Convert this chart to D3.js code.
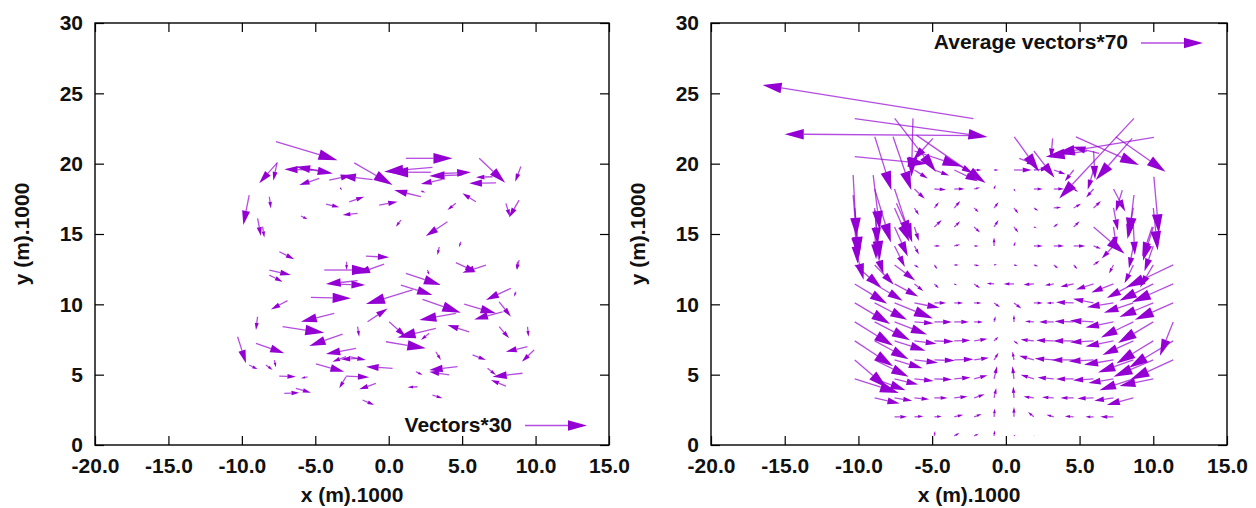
<!DOCTYPE html>
<html lang="en">
<head>
<meta charset="UTF-8">
<title>vectors</title>
<script src="https://cdn.jsdelivr.net/npm/d3@7"></script>
<style>
  body { margin: 0; background: #fff; }
  svg text { font-family: "Liberation Sans", Arial, Helvetica, sans-serif; font-weight: bold; }
</style>
</head>
<body>
<script>
// axis ticks
const xTicks = [-20, -15, -10, -5, 0, 5, 10, 15];
const yTicks = [0, 5, 10, 15, 20, 25, 30];

// left panel: single vectors [x, y, dx, dy] (already *30)
const vecs30 = [
  [-7.68, 21.56, 4.19, -1.31], [1.17, 20.38, 3.17, 0], [6.16, 20.38, 1.77, -1.74],
  [9.0, 19.8, -0.39, -1.09], [-7.57, 20.09, -1.25, -1.49], [-7.61, 20.02, -0.25, -1.23],
  [-5.19, 19.55, -1.92, 0.05], [-4.28, 19.43, -2.04, 0.35], [-6.0, 19.7, 2.2, -0.4],
  [-4.05, 18.83, 1.55, 0.36], [-1.1, 18.86, -2.15, 0.28], [-4.73, 18.95, -1.36, -0.47],
  [-2.35, 20.06, 2.61, -1.58], [2.98, 19.74, -3.29, -0.31], [2.87, 19.39, -2.84, 0],
  [2.19, 17.65, -1.82, 0.47], [3.6, 19.3, 2.0, 0.09], [5.0, 19.2, -2.24, -0.08],
  [3.66, 18.88, -1.47, -0.33], [7.3, 18.64, -1.82, -0.04], [7.07, 19.07, -1.13, -0.04],
  [-3.3, 18.3, 0.1, -0.2], [2.2, 18.05, 0.3, -0.1], [-2.69, 17.29, 1.02, 0.36],
  [-0.65, 17.06, 1.25, 0.23], [-4.27, 17.13, 0.9, -0.23], [-2.12, 16.47, -1.02, -0.12],
  [-5.98, 16.28, 0.45, -0.24], [-8.13, 17.65, 0.11, -0.83], [-9.5, 17.77, -0.4, -2.13],
  [-8.93, 16.11, 0.23, -1.26], [-8.59, 15.52, 0.12, -0.76], [5.94, 17.29, -0.92, 0.6],
  [4.57, 17.18, -0.57, -0.48], [4.0, 15.87, -1.47, -1.02], [0.83, 15.99, -0.34, -0.47],
  [8.88, 17.41, -0.68, -1.23], [7.98, 17.18, 0.27, -0.95], [3.44, 14.09, -0.12, -0.59],
  [4.91, 14.45, -0.11, -0.4], [8.88, 13.15, -0.15, -0.71], [-7.45, 13.74, 1.02, -0.54],
  [-1.55, 13.43, 1.58, -0.09], [-4.39, 12.44, 3.18, 0], [-0.31, 12.86, -1.92, -0.71],
  [-2.87, 13.03, 0, -0.59], [-2.12, 11.68, -2.16, -0.24], [-3.59, 11.44, 1.99, -0.07],
  [-8.13, 12.44, 1.47, -0.36], [-8.13, 12.08, 0.9, -0.47], [-5.3, 10.5, 2.73, -0.07],
  [-6.89, 10.26, -1.13, -0.62], [1.62, 11.02, -3.17, -1.0], [1.17, 12.2, 2.38, -0.83],
  [2.64, 12.44, 0.12, -0.36], [0.83, 11.37, 2.15, -0.71], [2.3, 10.36, 2.61, -0.96],
  [6.62, 12.79, -1.6, -0.54], [4.57, 12.96, 1.37, -0.64], [8.77, 13.03, -0.07, -0.54],
  [8.32, 11.14, -1.7, -0.83], [8.66, 10.9, -0.12, -0.36], [5.14, 10.02, 2.16, -0.66],
  [7.52, 10.18, 0.8, -1.06], [7.75, 9.47, -1.93, -0.54], [4.57, 9.36, -2.49, -0.48],
  [-1.44, 8.76, 1.36, 0.95], [-3.71, 9.36, -2.27, -0.6], [-7.23, 8.41, 2.84, -0.43],
  [-3.14, 7.89, -2.27, -0.85], [-8.93, 9.12, -0.11, -0.95], [-10.29, 7.7, 0.57, -1.89],
  [-9.04, 7.23, 1.93, -0.71], [-9.5, 5.69, 0.57, -0.31], [-8.36, 5.69, 0.45, -0.36],
  [-7.79, 6.04, 0.11, -0.52], [-2.23, 6.87, -2.05, -0.4], [-4.96, 5.76, 1.93, -0.55],
  [-2.01, 6.16, -1.24, -0.07], [-2.91, 6.28, -0.92, -0.36], [-2.69, 6.28, 1.14, -0.24],
  [0.26, 5.45, -1.81, 0.12], [-7.45, 4.9, 1.13, -0.05], [-5.53, 4.85, -0.45, -0.11],
  [-2.91, 4.9, 1.58, -0.09], [-2.91, 4.85, -0.46, -0.82], [-0.87, 4.38, -1.14, -0.42],
  [-7.11, 3.67, 1.02, 0.05], [-6.32, 4.03, 1.02, -0.31], [-1.78, 3.2, 0.79, -0.36],
  [1.96, 4.14, -0.68, -0.04], [1.85, 5.21, 0.45, -0.23], [4.68, 5.57, -1.92, -0.24],
  [4.12, 4.98, -1.36, 0.23], [3.21, 6.63, 0.34, -0.59], [2.98, 3.55, 0.68, -0.23],
  [0.03, 8.76, 1.14, -1.06], [3.21, 8.29, -2.61, -0.64], [-0.19, 7.34, 2.72, -0.47],
  [-2.12, 8.41, 0.11, -0.71], [2.76, 7.94, -0.57, -0.48], [5.48, 8.05, -1.48, 0.48],
  [7.52, 8.41, 0.68, -0.83], [9.45, 8.41, 0.07, -0.71], [9.45, 6.99, -1.47, -0.36],
  [9.9, 6.75, -0.83, -0.83], [5.71, 6.4, 0.91, -0.36], [9.11, 5.1, -2.04, -0.25],
  [7.98, 4.19, -1.02, 0.43], [6.73, 5.45, 0.57, -0.47]
];

// right panel: averaged field on a grid (already *70)
const gridX = [-10.25, -8.9, -7.55, -6.2, -4.85, -3.5, -2.15, -0.8, 0.55, 1.9, 3.25, 4.6, 5.95, 7.3, 8.65, 10.0, 11.35];
const gridY = [0.65, 2.0, 3.35, 4.7, 6.05, 7.4, 8.75, 10.1, 11.45, 12.8, 14.15, 15.5, 16.85, 18.2, 19.55];
const avgUV = [
  [null, null, null, null, [0.05, 0.35], [0.35, 0.2], [0.3, 0.15], [0.05, 0.4], [0.1, 0.1], [0.05, 0.05], null, null, null, null, null, null, null],
  [null, null, [0.85, 0], [0.6, 0.05], [0.5, 0.05], [0.6, 0.15], [0.5, 0.2], [0.05, 0.6], [0, 0.7], [-0.4, 0.35], [-0.5, 0.15], [-0.6, 0.05], [-0.55, 0], [-0.9, 0], null, null, null],
  [null, [1.7, -0.4], [1.2, -0.2], [1.0, -0.1], [0.9, 0], [0.9, 0.1], [0.7, 0.25], [0.15, 0.7], [-0.05, 0.8], [-0.7, 0.1], [-0.8, 0.05], [-0.9, 0], [-1.1, -0.05], [-1.3, -0.2], [-1.8, -0.5], null, null],
  [[3.0, -1.0], [2.1, -0.8], [1.6, -0.4], [1.3, -0.15], [1.2, -0.05], [1.1, 0.1], [0.9, 0.25], [0.2, 0.9], [-0.1, 0.9], [-0.9, 0.3], [-1.1, 0.1], [-1.2, 0], [-1.4, -0.1], [-1.7, -0.3], [-2.3, -0.8], [-2.3, -0.5], null],
  [[2.2, -2.0], [2.3, -1.2], [1.9, -0.6], [1.6, -0.2], [1.4, -0.05], [1.3, 0.05], [1.0, 0.15], [0.3, 0.5], [-0.1, 0.6], [-1.0, 0.3], [-1.3, 0.1], [-1.5, 0], [-1.7, -0.1], [-2.0, -0.35], [-2.4, -0.9], [-2.7, -1.2], [-2.9, -1.4]],
  [[2.6, -1.8], [2.3, -1.3], [2.1, -0.7], [1.5, -0.2], [1.3, -0.05], [1.1, 0.05], [0.9, 0.15], [0.3, 0.3], [0.3, -0.25], [-0.9, 0.1], [-1.2, 0.05], [-1.4, 0], [-1.6, -0.1], [-1.9, -0.4], [-2.1, -1.0], [-2.5, -1.6], [-3.0, -1.9]],
  [[2.6, -1.7], [2.4, -1.3], [2.2, -0.9], [1.3, -0.1], [1.2, 0], [1.0, 0], [0.6, 0], [0.1, 0.4], [0, 0.5], [-0.6, 0.05], [-1.0, 0], [-1.3, 0.05], [-1.6, 0.1], [-1.9, -0.4], [-2.2, -1.1], [-2.4, -1.5], [-0.9, -2.4]],
  [[2.4, -1.5], [2.2, -1.2], [2.6, -1.1], [1.7, -0.35], [0.8, 0], [0.6, 0], [0.5, 0], [0.4, -0.3], [0.5, -0.4], [0.6, 0], [-0.5, 0], [-1.2, 0.05], [-1.4, 0.3], [-1.8, -0.3], [-2.0, -0.7], [-2.3, -1.0], [-2.6, -1.2]],
  [[2.2, -1.4], [1.9, -1.2], [1.6, -0.9], [0.6, -0.5], [0.3, -0.3], [0.2, -0.1], [0.4, -0.3], [-0.5, 0.05], [-0.7, 0], [-0.7, -0.05], [-0.6, -0.1], [-0.9, -0.2], [-1.2, -0.4], [-1.5, -0.6], [-1.8, -1.0], [-2.3, -1.2], [-2.8, -1.3]],
  [[1.8, -1.6], [1.3, -1.4], [1.4, -1.1], [0.3, -0.2], [0.2, -0.3], [0.3, 0], [0.35, -0.05], [0.2, 0.05], [0.25, -0.05], [0.3, -0.1], [0.3, -0.25], [0.25, -0.3], [0.4, 0.3], [-0.3, -0.6], [-0.6, -1.3], [-0.9, -1.6], [-3.2, -1.6]],
  [[0.6, -2.4], [0.6, -2.0], [0.7, -1.5], [0.3, -0.6], [0.4, 0], [0.4, 0.1], [0.3, 0], [0, 0.6], [0.1, 0.3], [0.6, 0], [0.7, 0], [0.8, 0], [0.5, -0.2], [-0.8, -0.9], [-0.3, -1.6], [-0.6, -1.8], null],
  [[0.2, -2.6], [0.1, -2.3], [0.9, -2.1], [0.3, -1.0], [0.5, 0.5], [0.4, 0.4], [0.4, -0.4], [0.3, 0.5], [0.3, -0.4], [0.2, -0.1], [0.3, 0.25], [0.4, 0.4], [2.1, -1.9], [0.2, -1.4], [0.1, -2.0], [-0.7, -2.4], null],
  [[0.3, -3.4], [0.2, -2.6], [1.0, -2.4], [0.3, -0.5], [0.3, 0.4], [0.4, 0.5], [0.3, -0.3], [0.3, 0.4], [0.3, -0.4], [0.3, -0.2], [0.5, 0.05], [0.5, 0.3], [0.5, 0.5], [0.3, -1.6], [-0.4, -2.2], [0.3, -3.0], null],
  [null, [1.1, -3.8], [1.2, -3.8], [0.7, -0.7], [0.8, -0.05], [0.7, 0], [0.4, 0.1], [0.1, 0.3], [0.1, -0.2], [0.6, 0], [0.7, 0], [0.3, -0.2], [-0.5, -0.6], [0.8, -1.6], null, null, null],
  [null, null, null, [0.9, -0.6], [1.0, -0.4], [1.6, -0.8], [0.5, 0], [0.3, 0], [1.2, 0], [1.0, 0.1], [0.8, -0.3], [-0.6, -0.8], [-0.4, -1.4], null, null, null, null]
];
// right panel: long vectors near the top [x, y, dx, dy]
const avgTop = [
  [-10.25, 23.2, 9.0, -1.3], [-2.0, 22.0, -13.0, 0.1], [-2.2, 23.2, -14.3, 2.4],
  [-7.54, 23.22, 2.8, -3.8], [-6.3, 23.22, -0.1, -4.15], [-8.89, 21.91, 1.13, -3.8],
  [-7.65, 21.91, 1.24, -3.8], [-10.25, 20.5, 4.9, -0.5], [-6.07, 22.03, 4.7, -3.4],
  [-4.95, 21.8, -1.35, -1.56], [-3.6, 20.13, 1.36, -0.82], [-6.2, 20.9, 3.2, -1.1],
  [0.57, 21.91, 1.69, -2.48], [0.91, 20.38, 1.13, -0.48], [3.17, 21.8, -0.11, -1.42],
  [1.9, 20.9, 1.4, -1.9], [5.5, 20.9, -2.8, -0.4], [5.95, 20.9, 0.1, -2.0],
  [8.69, 23.22, -5.07, -5.69], [10.04, 21.87, -6.65, -1.14], [6.32, 20.73, -1.8, 0.47],
  [4.75, 21.91, 4.28, -2.01], [7.45, 21.91, 3.38, -2.48], [8.57, 21.8, -2.47, -2.97],
  [10.04, 19.07, 0.34, -4.02], [8.69, 17.77, -0.34, -2.97], [9.93, 15.52, -0.68, -2.14],
  [7.9, 18.12, -0.45, -1.54], [-10.36, 17.77, 0.34, -4.39], [-10.36, 19.19, 0.23, -4.39],
  [-9.0, 19.19, 0.45, -3.91], [-8.89, 16.7, 0.34, -3.55], [-7.42, 17.18, 1.01, -2.38]
];

const purple = "#9400d3";
const W = 1256, H = 508;
const y = d3.scaleLinear().domain([0, 30]).range([445, 23]);

const svg = d3.select("body").append("svg")
  .attr("width", W).attr("height", H);

function panel(x0, x1) {
  const x = d3.scaleLinear().domain([-20, 15]).range([x0, x1]);
  const g = svg.append("g");
  const fmtX = d => d.toFixed(1);

  const bottom = g.append("g").attr("transform", "translate(0,445)")
    .call(d3.axisBottom(x).tickValues(xTicks).tickSize(-9).tickPadding(13).tickFormat(fmtX));
  const top = g.append("g").attr("transform", "translate(0,23)")
    .call(d3.axisTop(x).tickValues(xTicks).tickSize(-9).tickFormat(""));
  const left = g.append("g").attr("transform", `translate(${x0},0)`)
    .call(d3.axisLeft(y).tickValues(yTicks).tickSize(-9).tickPadding(12));
  const right = g.append("g").attr("transform", `translate(${x1},0)`)
    .call(d3.axisRight(y).tickValues(yTicks).tickSize(-9).tickFormat(""));
  [bottom, top, left, right].forEach(a => {
    a.select(".domain").remove();
    a.selectAll("line").attr("stroke", "#000").attr("stroke-width", 1.2);
    a.selectAll("text").attr("font-size", 21).attr("fill", "#111")
      .attr("font-family", "'Liberation Sans', Arial, sans-serif").attr("font-weight", "bold");
  });

  g.append("rect")
    .attr("x", x0).attr("y", 23).attr("width", x1 - x0).attr("height", 422)
    .attr("fill", "none").attr("stroke", "#000").attr("stroke-width", 1.4);

  g.append("text")
    .attr("x", (x0 + x1) / 2).attr("y", 502)
    .attr("text-anchor", "middle").attr("font-size", 21).attr("fill", "#111")
    .text("x (m).1000");
  g.append("text")
    .attr("transform", `translate(${x0 - 66},234) rotate(-90)`)
    .attr("text-anchor", "middle").attr("font-size", 21).attr("fill", "#111")
    .text("y (m).1000");
  return {g, x};
}

// one arrow: tail (px,py) -> tip (qx,qy)
function arrow(g, px, py, qx, qy) {
  const len = Math.hypot(qx - px, qy - py);
  if (len < 0.5) return;
  const ux = (qx - px) / len, uy = (qy - py) / len;
  const hl = Math.min(19, 0.42 * len + 1.5, len), hw = 0.28 * hl;
  const bx = qx - ux * hl, by = qy - uy * hl;
  g.append("line")
    .attr("x1", px).attr("y1", py).attr("x2", bx).attr("y2", by)
    .attr("stroke", purple).attr("stroke-width", 1.3).attr("stroke-opacity", 0.7);
  g.append("path")
    .attr("d", `M${qx},${qy}L${bx - uy * hw},${by + ux * hw}L${bx + uy * hw},${by - ux * hw}Z`)
    .attr("fill", purple);
}

// left panel
const L = panel(95, 609);
vecs30.forEach(d => arrow(L.g, L.x(d[0]), y(d[1]), L.x(d[0] + d[2]), y(d[1] + d[3])));
L.g.append("text").attr("x", 512).attr("y", 432).attr("text-anchor", "end")
  .attr("font-size", 21).attr("fill", "#111").text("Vectors*30");
arrow(L.g, 525, 425.5, 587, 425.5);

// right panel
const R = panel(711, 1227);
gridY.forEach((gy, j) => {
  gridX.forEach((gx, i) => {
    const uv = avgUV[j][i];
    if (!uv) return;
    arrow(R.g, R.x(gx), y(gy), R.x(gx + uv[0]), y(gy + uv[1]));
  });
});
avgTop.forEach(d => arrow(R.g, R.x(d[0]), y(d[1]), R.x(d[0] + d[2]), y(d[1] + d[3])));
R.g.append("text").attr("x", 1128).attr("y", 49).attr("text-anchor", "end")
  .attr("font-size", 21).attr("fill", "#111").text("Average vectors*70");
arrow(R.g, 1141, 43, 1203, 43);
</script>
</body>
</html>
